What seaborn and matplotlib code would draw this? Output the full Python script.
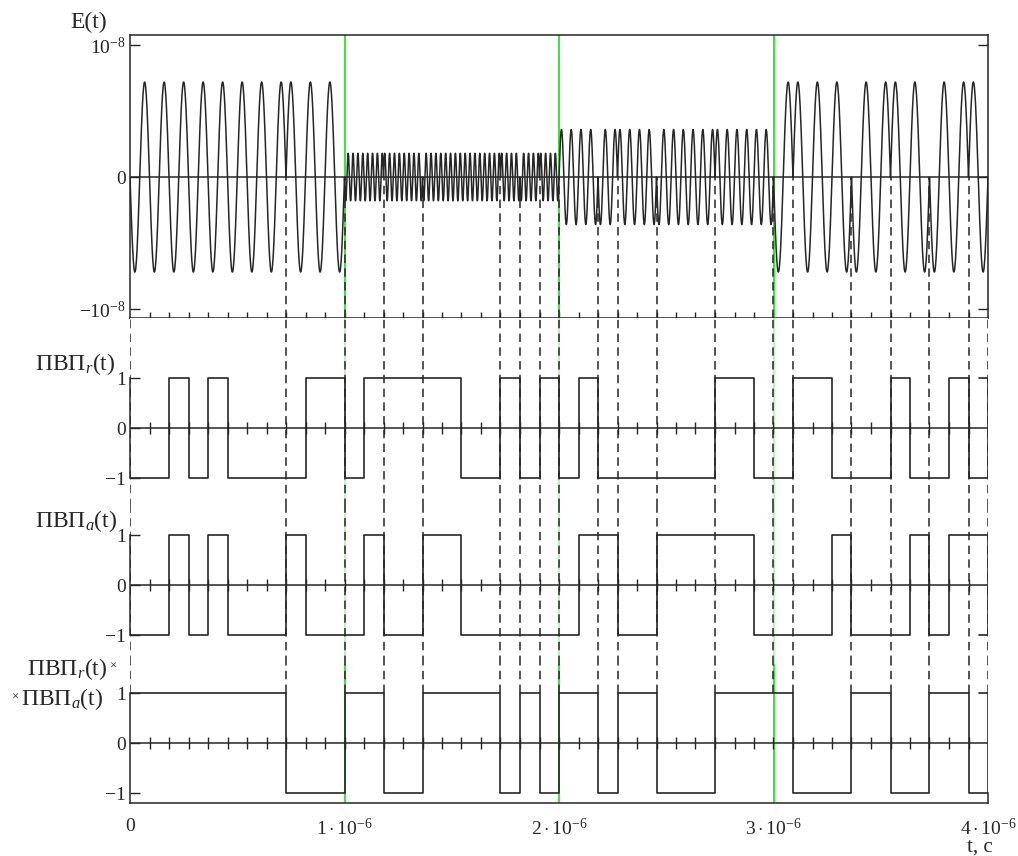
import numpy as np
import pandas as pd
import matplotlib
matplotlib.use('Agg')
import matplotlib.pyplot as plt
from matplotlib.ticker import FixedLocator
import seaborn as sns

# 44 chips over 4 us, 11 chips per microsecond
t_total = 4e-6
n_chips = 44

# pseudo-random codes, read chip by chip
pvp_r = [-1, -1, 1, -1, 1, -1, -1, -1, -1, 1, 1,
         -1, 1, 1, 1, 1, 1, -1, -1, 1, -1, 1,
         -1, 1, -1, -1, -1, -1, -1, -1, 1, 1, -1,
         -1, 1, 1, -1, -1, -1, 1, -1, -1, 1, -1]
pvp_a = [-1, -1, 1, -1, 1, -1, -1, -1, 1, -1, -1,
         -1, 1, -1, -1, 1, 1, -1, -1, -1, -1, -1,
         -1, 1, 1, -1, -1, 1, 1, 1, 1, 1, -1,
         -1, -1, -1, 1, -1, -1, -1, 1, -1, 1, 1]
# odd little end pieces the original plot shows at t = 4 us
tail_levels = [1, -1, 1]

# E(t) carrier per 1 us segment
seg_cycles = [1, 4, 2, 1]          # carrier cycles per chip
seg_amp = [0.72e-8, 0.18e-8, 0.36e-8, 0.72e-8]
seg_sign = [-1, -1, 1, -1]

x_ticks = [0, 1e-6, 2e-6, 3e-6, 4e-6]
x_labels = ['0', r'$1\cdot10^{-6}$', r'$2\cdot10^{-6}$', r'$3\cdot10^{-6}$', r'$4\cdot10^{-6}$']

sns.set_style('white')
plt.rcParams['font.family'] = ['Liberation Serif', 'DejaVu Serif']
plt.rcParams['mathtext.fontset'] = 'custom'
plt.rcParams['mathtext.rm'] = 'Liberation Serif'
plt.rcParams['mathtext.it'] = 'Liberation Serif:italic'
plt.rcParams['mathtext.bf'] = 'Liberation Serif:bold'

ink = '#262626'
green = '#22e622'
pale_green = '#b6f2b6'
dash = (0, (5.5, 3.5))
tick_fs = 14

chip = t_total / n_chips
t_edges = np.arange(n_chips + 1) * chip
prod = [r * a for r, a in zip(pvp_r, pvp_a)]

# phase change instants plus the 1 us boundaries
dash_k = sorted(set([k for k in range(1, n_chips) if prod[k] != prod[k - 1]] + [0, 11, 22, 33, 44]))
dash_t = t_edges[dash_k]
green_t = [1e-6, 2e-6, 3e-6]

# build E(t)
tt, ee = [], []
for k in range(n_chips):
    s = k // 11
    n = 60 * seg_cycles[s] + 1
    tau = np.linspace(0, 1, n)
    tt.append(t_edges[k] + tau * chip)
    ee.append(seg_sign[s] * seg_amp[s] * prod[k] * np.sin(2 * np.pi * seg_cycles[s] * tau))
df_e = pd.DataFrame({'t': np.concatenate(tt), 'E': np.concatenate(ee)})

W, H = 1018, 856
fig = plt.figure(figsize=(W / 100, H / 100), dpi=100)

def box(top, bottom):
    return [130 / W, 1 - bottom / H, 858 / W, (bottom - top) / H]

axE = fig.add_axes(box(35, 318))
axR = fig.add_axes(box(318, 507))
axA = fig.add_axes(box(507, 664))
axP = fig.add_axes(box(664, 803))

# ---- E(t) panel
axE.set_xlim(0, t_total)
axE.set_ylim(-1.068e-8, 1.076e-8)
for t in green_t:
    axE.axvline(t, color=green, lw=1.3, zorder=1)
inner = [t for t in dash_t if 0 < t < t_total - chip / 2]
axE.vlines(inner, -1.068e-8, 0, colors=ink, linestyles=dash, lw=1.1, zorder=2)
axE.axhline(0, color=ink, lw=1.1, zorder=3)
sns.lineplot(data=df_e, x='t', y='E', ax=axE, color=ink, lw=1.1,
             estimator=None, sort=False, zorder=4)
axE.set_xlabel('')
axE.set_ylabel('')
axE.set_xticks([])
axE.xaxis.set_minor_locator(FixedLocator(t_edges[1:n_chips]))
axE.tick_params(axis='x', which='minor', direction='inout', length=8, width=1.0,
                color=ink, bottom=True)
axE.set_yticks([-1e-8, 0, 1e-8])
axE.set_yticklabels([r'$-10^{-8}$', '0', r'$10^{-8}$'])
axE.tick_params(axis='y', direction='in', length=7, width=1.0, color=ink,
                left=True, right=True, pad=3, labelsize=tick_fs)
for sp in axE.spines.values():
    sp.set_visible(True)
    sp.set_color(ink)
    sp.set_linewidth(1.1)

# ---- code panels
panels = [
    (axR, pvp_r, tail_levels[0], (-1.58, 2.2)),
    (axA, pvp_a, tail_levels[1], (-1.58, 1.56)),
    (axP, prod, tail_levels[2], (-1.2, 1.58)),
]
for i, (ax, code, tail, ylim) in enumerate(panels):
    ax.set_xlim(0, t_total)
    ax.set_ylim(*ylim)
    is_prod = i == 2
    for t in green_t:
        ax.axvline(t, color=green if is_prod else pale_green, lw=1.3, zorder=1)
    if is_prod:
        ax.vlines(dash_t, 1, ylim[1], colors=ink, linestyles=dash, lw=1.1, zorder=2)
    else:
        ax.vlines(dash_t, ylim[0], ylim[1], colors=ink, linestyles=dash, lw=1.1, zorder=2)
    ax.axhline(0, color=ink, lw=1.1, zorder=3)
    ax.vlines(t_edges[1:n_chips], -0.12, 0.12, colors=ink, lw=1.0, zorder=3)

    df = pd.DataFrame({'t': t_edges, 'v': list(code) + [code[-1]]})
    sns.lineplot(data=df, x='t', y='v', ax=ax, color=ink, lw=1.2,
                 drawstyle='steps-post', estimator=None, sort=False, zorder=4)
    df_tail = pd.DataFrame({'t': [t_edges[-2] + 0.55 * chip, t_edges[-1], t_edges[-1]],
                            'v': [tail, tail, code[-1]]})
    sns.lineplot(data=df_tail, x='t', y='v', ax=ax, color=ink, lw=1.2,
                 estimator=None, sort=False, zorder=4)
    ax.set_xlabel('')
    ax.set_ylabel('')

    for sp in ax.spines.values():
        sp.set_visible(False)
        sp.set_color(ink)
        sp.set_linewidth(1.1)
    ax.spines['left'].set_visible(True)
    ax.spines['left'].set_bounds(-1 if not is_prod else ylim[0], 1)
    ax.set_yticks([-1, 0, 1])
    ax.set_yticklabels(['\u22121', '0', '1'])
    ax.tick_params(axis='y', direction='in', length=7, width=1.0, color=ink,
                   left=True, pad=3, labelsize=tick_fs)
    if is_prod:
        ax.spines['bottom'].set_visible(True)
        ax.spines['right'].set_visible(True)
        ax.spines['right'].set_bounds(ylim[0], -1)
        ax.set_xticks(x_ticks)
        ax.set_xticklabels(x_labels)
        ax.tick_params(axis='x', length=0, pad=11, labelsize=tick_fs)
    else:
        ax.set_xticks([])

# ---- axis titles
def px(x, y):
    return x / W, 1 - y / H

fig.text(*px(70, 28), 'E(t)', fontsize=17, ha='left', va='baseline')
fig.text(*px(115, 370), r'$\mathrm{ПВП}_{r}\mathrm{(t)}$', fontsize=17, ha='right', va='baseline')
fig.text(*px(117, 527), r'$\mathrm{ПВП}_{a}\mathrm{(t)}$', fontsize=17, ha='right', va='baseline')
fig.text(*px(107, 675), r'$\mathrm{ПВП}_{r}\mathrm{(t)}$', fontsize=17, ha='right', va='baseline')
fig.text(*px(109, 667), '\u00d7', fontsize=9, ha='left', va='center')
fig.text(*px(18, 698), '\u00d7', fontsize=9, ha='right', va='center')
fig.text(*px(21, 705), r'$\mathrm{ПВП}_{a}\mathrm{(t)}$', fontsize=17, ha='left', va='baseline')
fig.text(*px(980, 847), 't, с', fontsize=15, ha='center', va='center')

fig.savefig('out.png', dpi=100)
